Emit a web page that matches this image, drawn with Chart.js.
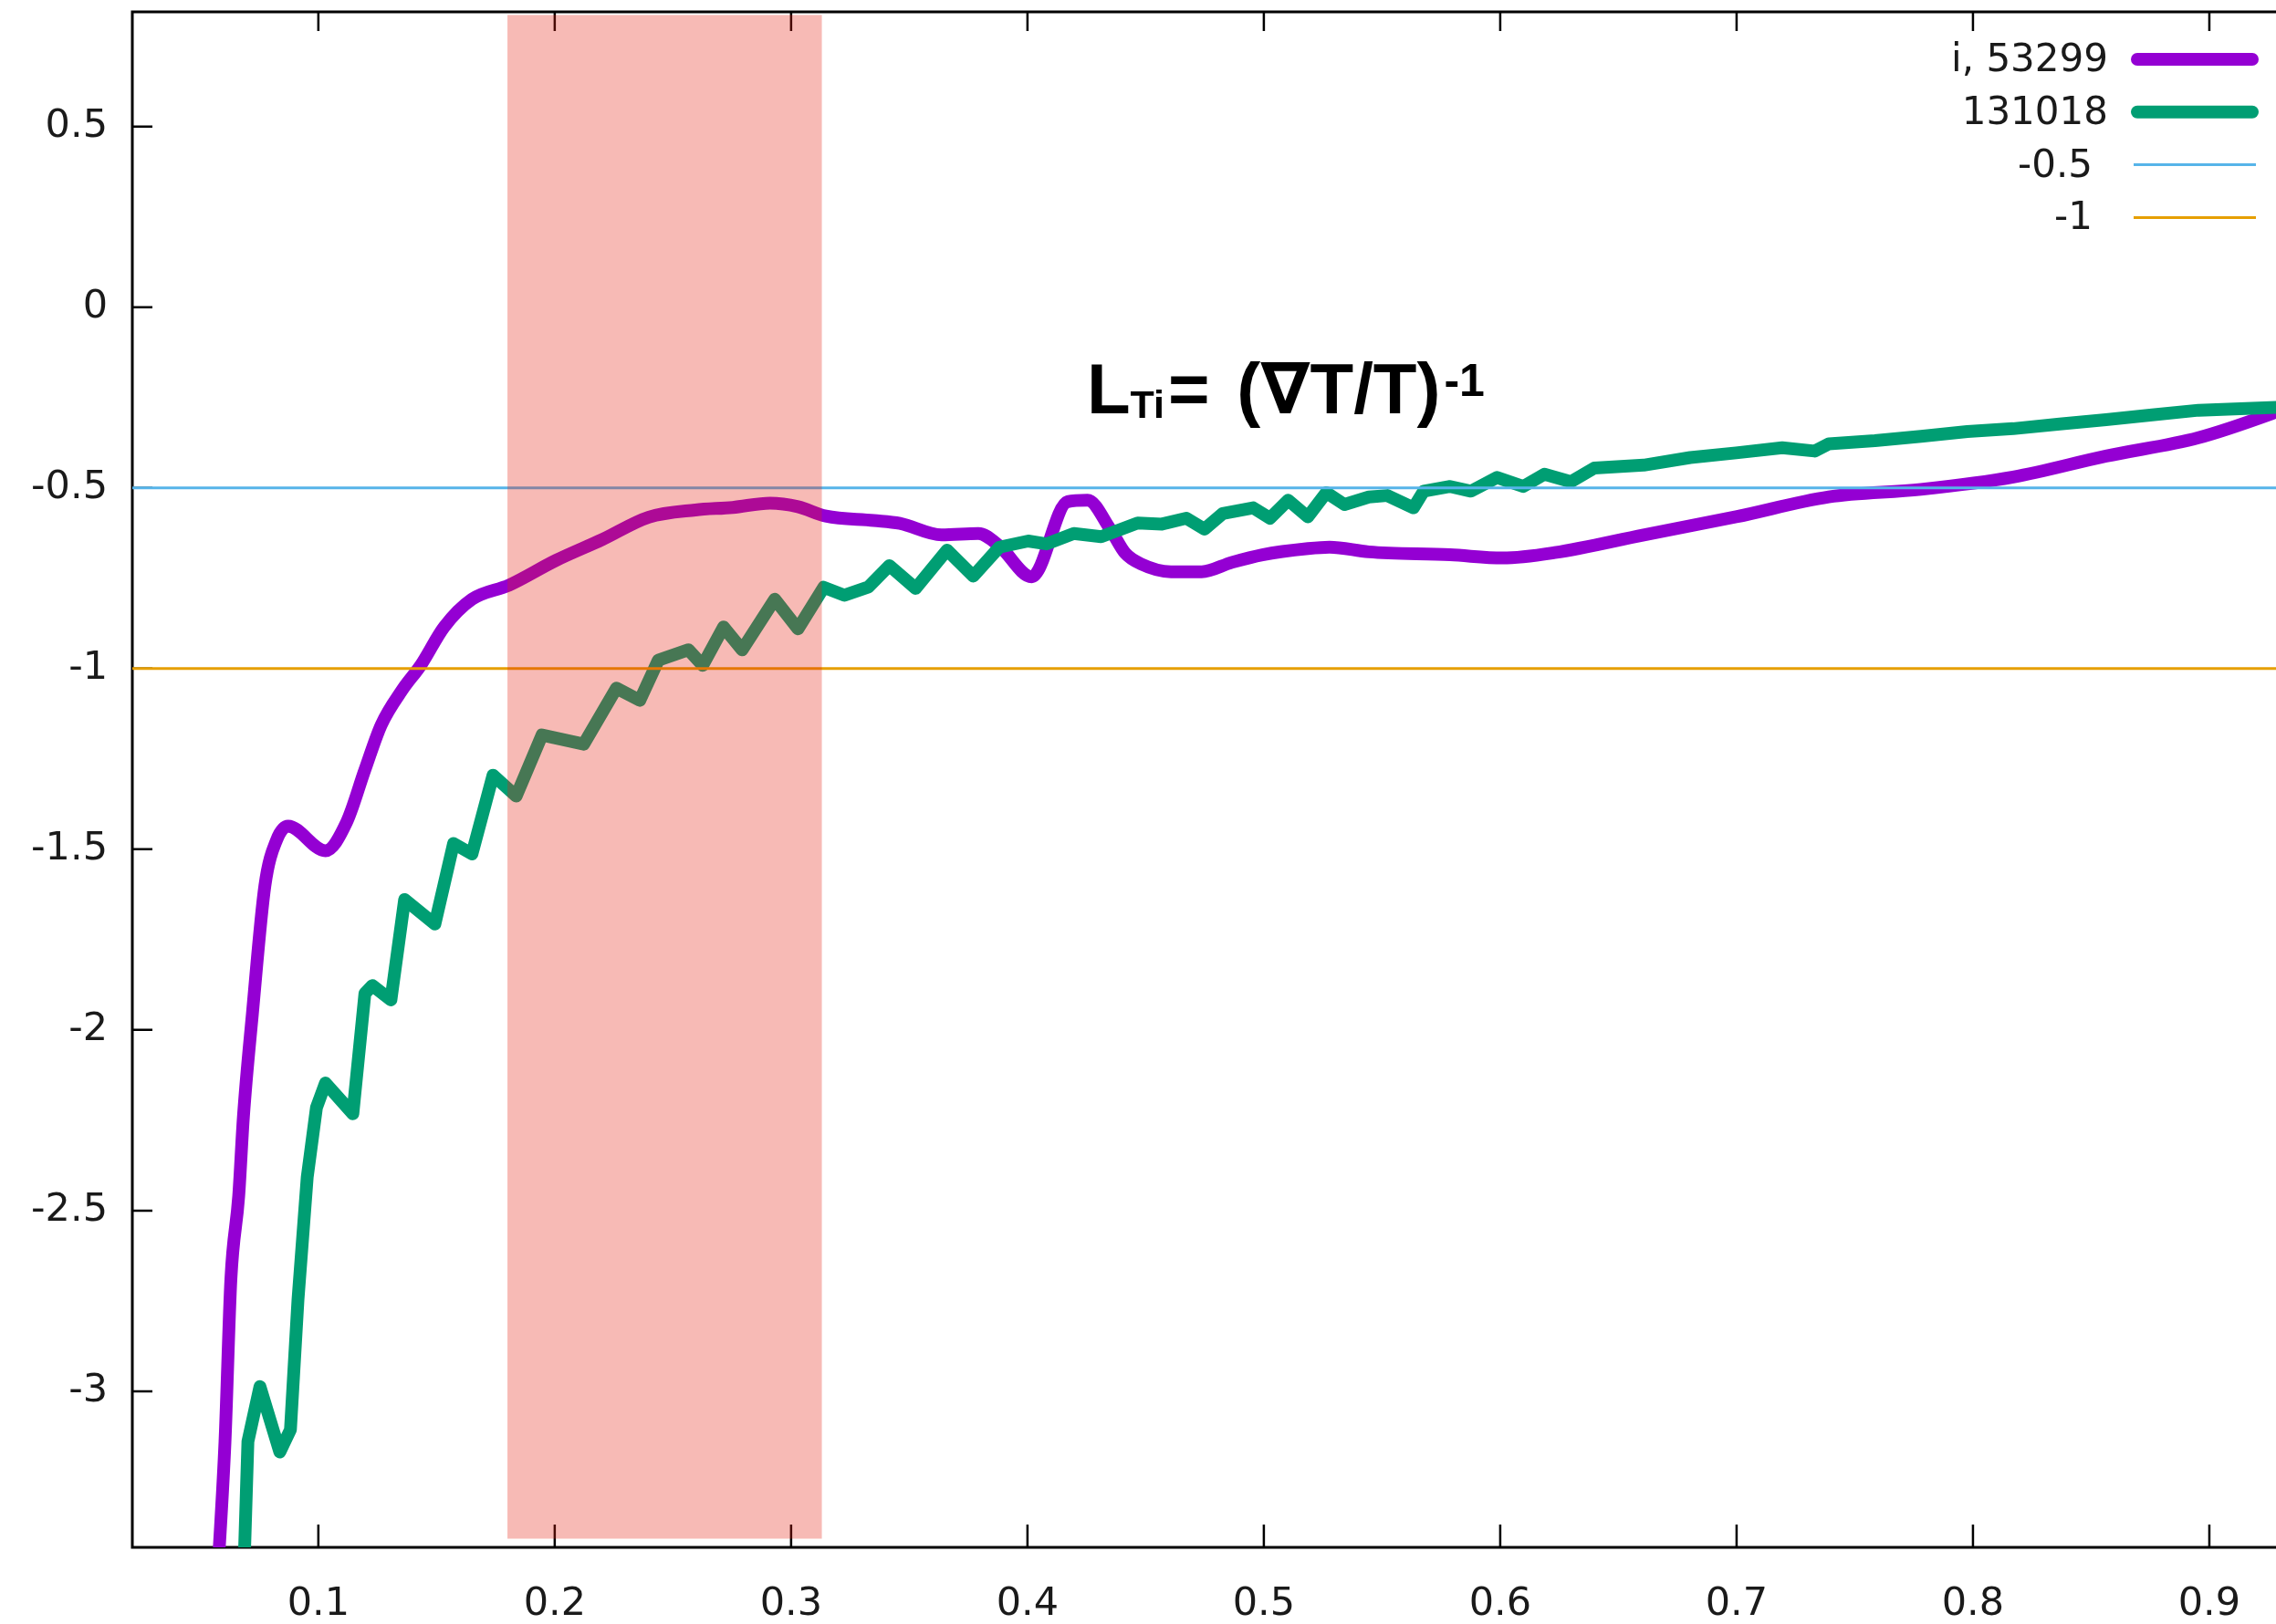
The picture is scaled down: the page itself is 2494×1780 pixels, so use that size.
<!DOCTYPE html>
<html>
<head>
<meta charset="utf-8">
<title>L_Ti profile</title>
<script src="https://cdn.jsdelivr.net/npm/chart.js@4.4.1/dist/chart.umd.min.js"></script>
<style>
  html, body { margin: 0; padding: 0; background: #fff; }
  #wrap { width: 2494px; height: 1780px; position: relative; }
</style>
</head>
<body>
<div id="wrap"><canvas id="myChart"></canvas></div>
<script>
"use strict";

// shot 53299 (purple)
const purpleX = [0.0575, 0.0605, 0.0630, 0.0663, 0.0683, 0.0721, 0.0774, 0.0823, 0.0872, 0.1030,
  0.1119, 0.1197, 0.1266, 0.1355, 0.1433, 0.1532, 0.1650, 0.1807, 0.2004, 0.2201,
  0.2398, 0.2595, 0.2753, 0.2911, 0.3029, 0.3147, 0.3350, 0.3460, 0.3637, 0.3792,
  0.3880, 0.4018, 0.4170, 0.4254, 0.4350, 0.4414, 0.4479, 0.4607, 0.4737, 0.4865,
  0.4994, 0.5187, 0.5278, 0.5444, 0.5788, 0.6010, 0.6231, 0.6607, 0.6998, 0.7390,
  0.7780, 0.8170, 0.8563, 0.8954, 0.9282, 0.9400];
const purpleY = [-3.50, -3.14, -2.69, -2.46, -2.24, -1.955, -1.60, -1.475, -1.436, -1.504,
  -1.426, -1.280, -1.156, -1.059, -0.991, -0.885, -0.808, -0.769, -0.701, -0.643,
  -0.581, -0.561, -0.554, -0.542, -0.552, -0.578, -0.590, -0.598, -0.630, -0.626,
  -0.660, -0.746, -0.538, -0.534, -0.614, -0.681, -0.710, -0.732, -0.732, -0.706,
  -0.685, -0.668, -0.664, -0.677, -0.685, -0.694, -0.679, -0.630, -0.580, -0.525,
  -0.504, -0.470, -0.412, -0.361, -0.290, -0.260];

// shot 131018 (green)
const greenX = [0.0685, 0.0702, 0.0753, 0.0837, 0.0882, 0.0914, 0.0953, 0.0992, 0.1030, 0.1146,
  0.1197, 0.1229, 0.1307, 0.1365, 0.1493, 0.1572, 0.1650, 0.1739, 0.1837, 0.1946,
  0.2123, 0.2261, 0.2360, 0.2438, 0.2566, 0.2626, 0.2714, 0.2793, 0.2931, 0.3029,
  0.3138, 0.3226, 0.3327, 0.3416, 0.3527, 0.3660, 0.3771, 0.3881, 0.4003, 0.4080,
  0.4196, 0.4312, 0.4466, 0.4569, 0.4672, 0.4749, 0.4826, 0.4955, 0.5026, 0.5103,
  0.5186, 0.5264, 0.5341, 0.5444, 0.5522, 0.5633, 0.5676, 0.5788, 0.5876, 0.5987,
  0.6097, 0.6187, 0.6299, 0.6398, 0.6607, 0.6804, 0.6998, 0.7193, 0.7330, 0.7390,
  0.7585, 0.7780, 0.7976, 0.8170, 0.8367, 0.8563, 0.8758, 0.8954, 0.9282, 0.9400];
const greenY = [-3.50, -3.139, -2.987, -3.168, -3.106, -2.745, -2.407, -2.215, -2.147, -2.232,
  -1.899, -1.877, -1.917, -1.639, -1.707, -1.484, -1.513, -1.295, -1.353, -1.184,
  -1.209, -1.054, -1.088, -0.977, -0.948, -0.991, -0.885, -0.948, -0.808, -0.890,
  -0.775, -0.797, -0.774, -0.715, -0.778, -0.672, -0.744, -0.664, -0.647, -0.655,
  -0.626, -0.635, -0.597, -0.600, -0.584, -0.614, -0.571, -0.555, -0.584, -0.534,
  -0.580, -0.513, -0.546, -0.525, -0.521, -0.555, -0.509, -0.496, -0.509, -0.471,
  -0.496, -0.462, -0.483, -0.445, -0.437, -0.416, -0.403, -0.389, -0.398, -0.378,
  -0.369, -0.357, -0.344, -0.336, -0.323, -0.311, -0.298, -0.285, -0.277, -0.270];

const refLevels = [-0.5, -1];
const seriesLabels = ['i, 53299', '131018', '-0.5', '-1'];
const seriesColors = ['#9400d3', '#009e73', '#56b4e9', '#e69f00'];

const xTicks = [0.1, 0.2, 0.3, 0.4, 0.5, 0.6, 0.7, 0.8, 0.9];
const yTicks = [0.5, 0, -0.5, -1, -1.5, -2, -2.5, -3];
const xRange = [0.0213, 0.9282];
const yRange = [-3.432, 0.8175];

// shaded radial band
const bandX = [0.180, 0.313];
const bandY = [-3.408, 0.809];

// formula anchor (left end of baseline)
const formulaAt = { x: 0.4251, y: -0.2929 };

const toPoints = (xs, ys) => xs.map((v, i) => ({ x: v, y: ys[i] }));

// border + inward tics, drawn under the curves
const framePlugin = {
  id: 'frame',
  beforeDatasetsDraw(chart) {
    const { ctx, chartArea: a, scales: { x, y } } = chart;
    ctx.save();
    ctx.strokeStyle = '#000';
    ctx.lineWidth = 2.5;
    ctx.beginPath();
    xTicks.forEach(v => {
      const px = x.getPixelForValue(v);
      ctx.moveTo(px, a.bottom); ctx.lineTo(px, a.bottom - 25);
      ctx.moveTo(px, a.top); ctx.lineTo(px, a.top + 21);
    });
    yTicks.forEach(v => {
      const py = y.getPixelForValue(v);
      ctx.moveTo(a.left, py); ctx.lineTo(a.left + 22, py);
    });
    ctx.stroke();
    ctx.lineWidth = 3;
    ctx.beginPath();
    ctx.moveTo(a.right + 4, a.top);
    ctx.lineTo(a.left, a.top);
    ctx.lineTo(a.left, a.bottom);
    ctx.lineTo(a.right + 4, a.bottom);
    ctx.stroke();
    ctx.restore();
  }
};

const bandPlugin = {
  id: 'band',
  afterDatasetsDraw(chart) {
    const { ctx, scales: { x, y } } = chart;
    const x0 = x.getPixelForValue(bandX[0]);
    const x1 = x.getPixelForValue(bandX[1]);
    const y0 = y.getPixelForValue(bandY[1]);
    const y1 = y.getPixelForValue(bandY[0]);
    ctx.save();
    ctx.fillStyle = 'rgba(230, 32, 16, 0.31)';
    ctx.fillRect(x0, y0, x1 - x0, y1 - y0);
    ctx.restore();
  }
};

// gnuplot style key: text first, sample line after
const keyPlugin = {
  id: 'key',
  afterDraw(chart) {
    const { ctx, chartArea: a } = chart;
    ctx.save();
    ctx.font = '42px "DejaVu Sans", sans-serif';
    ctx.textAlign = 'right';
    ctx.textBaseline = 'middle';
    chart.data.datasets.forEach((ds, i) => {
      const rowY = a.top + 52 + i * 57.8;
      const thick = ds.borderWidth > 5;
      ctx.fillStyle = '#1a1a1a';
      ctx.fillText(ds.label, a.right - (thick ? 184 : 201), rowY + 2);
      ctx.strokeStyle = ds.borderColor;
      ctx.lineWidth = ds.borderWidth;
      ctx.lineCap = thick ? 'round' : 'butt';
      ctx.beginPath();
      if (thick) {
        ctx.moveTo(a.right - 152, rowY); ctx.lineTo(a.right - 26, rowY);
      } else {
        ctx.moveTo(a.right - 156, rowY); ctx.lineTo(a.right - 22, rowY);
      }
      ctx.stroke();
    });
    ctx.restore();
  }
};

const formulaPlugin = {
  id: 'formula',
  afterDraw(chart) {
    const { ctx, scales: { x, y } } = chart;
    let px = x.getPixelForValue(formulaAt.x);
    const base = y.getPixelForValue(formulaAt.y);
    const big = 'bold 78px "Liberation Sans", Arial, "DejaVu Sans", sans-serif';
    const sub = 'bold 43px "Liberation Sans", Arial, sans-serif';
    const sup = 'bold 50px "Liberation Sans", Arial, sans-serif';
    // [text, font, baseline shift, gap after]
    const parts = [['L', big, 0, 0], ['Ti', sub, 5, 4], ['=', big, 0, 8], [' (\u2207T/T)', big, 0, 4], ['-1', sup, -19, 0]];
    ctx.save();
    ctx.fillStyle = '#000';
    ctx.textAlign = 'left';
    ctx.textBaseline = 'alphabetic';
    parts.forEach(([t, f, dy, gap]) => {
      ctx.font = f;
      ctx.fillText(t, px, base + dy);
      px += ctx.measureText(t).width + gap;
    });
    ctx.restore();
  }
};

const tickFont = { family: '"DejaVu Sans", sans-serif', size: 43 };

new Chart(document.getElementById('myChart'), {
  type: 'line',
  data: {
    datasets: [
      {
        label: seriesLabels[0],
        data: toPoints(purpleX, purpleY),
        borderColor: seriesColors[0],
        borderWidth: 14,
        cubicInterpolationMode: 'monotone',
        order: 4
      },
      {
        label: seriesLabels[1],
        data: toPoints(greenX, greenY),
        borderColor: seriesColors[1],
        borderWidth: 14,
        order: 3
      },
      {
        label: seriesLabels[2],
        data: xRange.map(v => ({ x: v, y: refLevels[0] })),
        borderColor: seriesColors[2],
        borderWidth: 3,
        order: 2
      },
      {
        label: seriesLabels[3],
        data: xRange.map(v => ({ x: v, y: refLevels[1] })),
        borderColor: seriesColors[3],
        borderWidth: 3,
        order: 1
      }
    ]
  },
  options: {
    responsive: true,
    maintainAspectRatio: false,
    animation: false,
    devicePixelRatio: 1,
    layout: { padding: { top: 13, right: 0, bottom: 0, left: 0 } },
    elements: {
      point: { radius: 0, hoverRadius: 0 },
      line: { tension: 0, fill: false, borderCapStyle: 'round', borderJoinStyle: 'round' }
    },
    plugins: {
      legend: { display: false },
      tooltip: { enabled: false }
    },
    scales: {
      x: {
        type: 'linear',
        min: xRange[0],
        max: xRange[1],
        grid: { display: false },
        border: { display: false },
        afterBuildTicks: s => { s.ticks = xTicks.map(v => ({ value: v })); },
        afterFit: s => { s.height = 84; s.paddingLeft = 0; s.paddingRight = 0; },
        ticks: {
          font: tickFont,
          color: '#1a1a1a',
          padding: 29,
          autoSkip: false,
          maxRotation: 0,
          callback: v => v.toFixed(1)
        }
      },
      y: {
        type: 'linear',
        min: yRange[0],
        max: yRange[1],
        grid: { display: false },
        border: { display: false },
        afterBuildTicks: s => { s.ticks = yTicks.map(v => ({ value: v })); },
        afterFit: s => { s.width = 145; s.paddingTop = 0; s.paddingBottom = 0; },
        ticks: {
          font: tickFont,
          color: '#1a1a1a',
          padding: 19,
          autoSkip: false,
          callback: v => String(v)
        }
      }
    }
  },
  plugins: [framePlugin, bandPlugin, keyPlugin, formulaPlugin]
});
</script>
</body>
</html>
